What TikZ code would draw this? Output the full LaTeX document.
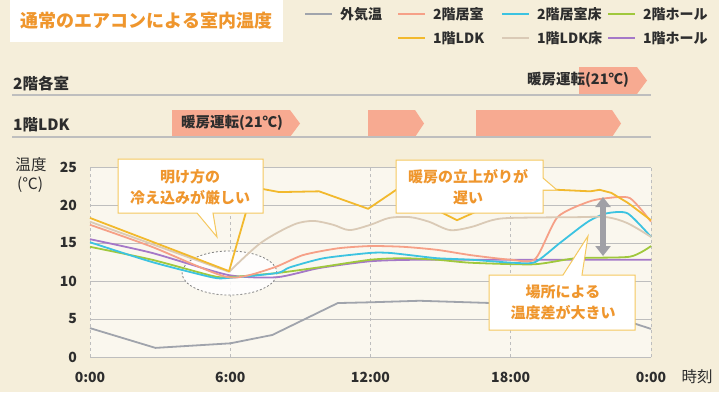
\documentclass[tikz,border=0pt]{standalone}
\usepackage{fontspec}
\setmainfont{Noto Sans CJK JP}
\usetikzlibrary{arrows.meta}

\definecolor{paper}{RGB}{245,238,218}
\definecolor{plotbg}{RGB}{250,247,238}
\definecolor{orangetext}{RGB}{239,150,45}
\definecolor{darktext}{RGB}{45,45,45}
\definecolor{gridgray}{RGB}{190,190,190}
\definecolor{outside}{RGB}{160,164,172}
\definecolor{roomtwo}{RGB}{246,160,135}
\definecolor{floortwo}{RGB}{60,195,225}
\definecolor{halltwo}{RGB}{160,200,60}
\definecolor{ldkone}{RGB}{242,185,45}
\definecolor{floorone}{RGB}{218,202,182}
\definecolor{hallone}{RGB}{165,120,200}
\definecolor{heatfill}{RGB}{247,170,145}
\definecolor{calloutline}{RGB}{245,200,95}
\definecolor{arrowgray}{RGB}{160,160,166}

\begin{document}
\begin{tikzpicture}[x=1pt,y=-1pt,
    legtext/.style={font=\fontsize{14}{16}\selectfont\bfseries,text=darktext,anchor=west,inner sep=0pt},
    legline/.style={line width=1.8pt},
    rowlabel/.style={font=\fontsize{15.5}{18}\selectfont\bfseries,text=darktext,anchor=west,inner sep=0pt},
    rowline/.style={draw=gridgray,line width=1.5pt},
    heat/.style={fill=heatfill},
    heattext/.style={font=\fontsize{14.5}{16}\selectfont\bfseries,text=darktext,inner sep=0pt},
    tick/.style={font=\fontsize{14}{16}\selectfont\bfseries,text=darktext,inner sep=0pt},
    grid/.style={draw=gridgray,line width=0.9pt},
    vgrid/.style={draw=gridgray,line width=0.9pt,dash pattern=on 3pt off 3pt},
    curve/.style={line width=1.8pt,line join=round},
    callout/.style={fill=white,draw=calloutline,line width=1pt,line join=miter},
    callouttext/.style={font=\fontsize{15}{21}\selectfont\bfseries,text=orangetext,align=center,inner sep=0pt},
    gap/.style={draw=arrowgray,line width=6pt,{Triangle[width=15pt,length=10pt]}-{Triangle[width=15pt,length=10pt]}}]

  \useasboundingbox (0,0) rectangle (719,392);
  \fill[paper] (0,0) rectangle (719,392);

  % title
  \node[fill=white,minimum width=273pt,minimum height=42pt,inner sep=0pt,
        font=\fontsize{18}{20}\selectfont\bfseries,text=orangetext] (title) at (146.5,21) {通常のエアコンによる室内温度};

  % legend
  \draw[legline,outside] (305,14) -- (332,14);
  \node[legtext] (legout) at (340,14) {外気温};
  \draw[legline,roomtwo] (398,14) -- (425,14);
  \node[legtext] (legroomtwo) at (433,14) {2階居室};
  \draw[legline,floortwo] (502,14) -- (529,14);
  \node[legtext] (legfloortwo) at (537,14) {2階居室床};
  \draw[legline,halltwo] (608,14) -- (635,14);
  \node[legtext] (leghalltwo) at (643,14) {2階ホール};
  \draw[legline,ldkone] (398,38) -- (425,38);
  \node[legtext] (legldkone) at (433,38) {1階LDK};
  \draw[legline,floorone] (502,38) -- (529,38);
  \node[legtext] (legfloorone) at (537,38) {1階LDK床};
  \draw[legline,hallone] (608,38) -- (635,38);
  \node[legtext] (leghallone) at (643,38) {1階ホール};

  % heating schedule
  \node[rowlabel] (rowtwo) at (13,84) {2階各室};
  \node[rowlabel] (rowone) at (13,125) {1階LDK};
  \fill[heat] (579,67) -- (637,67) -- (647,80.5) -- (637,94) -- (579,94) -- cycle;
  \fill[heat] (172,110) -- (290,110) -- (300,123.5) -- (290,137) -- (172,137) -- cycle;
  \fill[heat] (368,110) -- (415,110) -- (424,123.5) -- (415,137) -- (368,137) -- cycle;
  \fill[heat] (476,110) -- (612,110) -- (621,123.5) -- (612,137) -- (476,137) -- cycle;
  \draw[rowline] (12,95) -- (651,95);
  \draw[rowline] (12,137) -- (651,137);
  \node[heattext] (heattwo) at (578,80) {暖房運転(21℃)};
  \node[heattext] (heatone) at (232,123) {暖房運転(21℃)};

  % axis titles
  \node[font=\fontsize{15.5}{18}\selectfont,text=darktext,inner sep=0pt] (ylabel) at (31,165) {温度};
  \node[font=\fontsize{15.5}{18}\selectfont,text=darktext,inner sep=0pt] (yunit) at (30,185) {(℃)};
  \node[font=\fontsize{15.5}{18}\selectfont,text=darktext,inner sep=0pt] (xlabel) at (697,377) {時刻};

  \begin{scope}[shift={(90,357)},x=23.375pt,y=7.6pt]
    \fill[plotbg] (0,0) rectangle (24,25);
    \foreach \t in {0,5,...,25} {
      \draw[grid] (0,\t) -- (24,\t);
      \node[tick,anchor=east] (y\t) at (-0.55,\t) {\t};
    }
    \foreach \h/\s in {0/0:00,6/6:00,12/12:00,18/18:00,24/0:00} {
      \draw[vgrid] (\h,0) -- (\h,25);
      \node[tick] (x\h) at (\h,-2.65) {\s};
    }

    % cold morning
    \fill[white,opacity=0.85] (5.97,11.05) ellipse [x radius=2.03,y radius=2.9];
    \draw[gray,line width=0.8pt,dash pattern=on 2pt off 2pt] (5.97,11.05) ellipse [x radius=2.03,y radius=2.9];

    \draw[curve,outside] plot coordinates {(0,3.8) (2.8,1.2) (6,1.8) (7.8,2.9) (10.6,7.1) (12,7.2) (14.1,7.4) (17.2,7.1) (21.5,6.8) (23.2,4.5) (24,3.7)};
    \draw[curve,hallone] plot[smooth,tension=0.4] coordinates {(0,15.5) (2.65,13.7) (5.9,10.8) (8,10.5) (9.8,11.7) (12,12.6) (14.1,12.8) (19,12.8) (24,12.8)};
    \draw[curve,halltwo] plot[smooth,tension=0.4] coordinates {(0,14.5) (2.65,12.8) (5.2,10.7) (5.9,10.5) (8,11.05) (9.8,11.8) (12,12.8) (13.4,13.0) (14.85,12.8) (16.3,12.4) (19,12.2) (20.8,13.0) (23.1,13.2) (24,14.6)};
    \draw[curve,floortwo] plot[smooth,tension=0.4] coordinates {(0,15.1) (2.65,12.5) (5.2,10.5) (5.9,10.4) (8,11.05) (8.55,11.8) (10,13) (12,13.7) (12.8,13.7) (13.7,13.4) (14.85,13) (16.3,12.8) (18.1,12.4) (19.05,12.5) (20.1,15) (21.3,17.8) (22.1,18.9) (23,18.9) (24,15.8)};
    \draw[curve,roomtwo] plot[smooth,tension=0.4] coordinates {(0,17.4) (2.65,14.5) (5.9,10.5) (7.8,11.7) (9.1,13.4) (10.6,14.3) (12,14.6) (13.4,14.5) (14.85,14.1) (16.3,13.4) (18,12.8) (19.05,12.9) (20,18.4) (21.3,20.4) (22.1,20.9) (23.1,20.9) (24,17.8)};
    \draw[curve,floorone] (0,17.8) -- plot[smooth,tension=0.5] coordinates {(5.95,11.2) (7.3,15.0) (8.7,17.4) (9.55,17.9) (10.4,17.4) (11.1,16.7) (12,17.4) (12.8,18.3) (13.7,18.4) (14.5,17.8) (15.4,16.7) (16.3,17.1) (17.2,18.0) (18,18.3) (20.8,18.4) (22.1,18.4) (23,17.6) (24,15.8)};
    \draw[curve,ldkone] plot coordinates {(0,18.3) (5.95,11.3) (6.95,22.0) (7.4,22.1) (8.1,21.7) (9.8,21.8) (11.9,19.5) (13.1,22.0) (15.7,18.0) (18.6,22.0) (20,22.0) (21.4,21.8) (21.8,22.0) (22.3,21.6) (23,20.3) (24,18.0)};
  \end{scope}

  % gap between rooms
  \coordinate (gaptop) at (603,197);
  \coordinate (gapbottom) at (603,256);
  \draw[gap] (gaptop) -- (gapbottom);

  % callouts
  \coordinate (coldtip) at (217,237);
  \filldraw[callout] (118,159) -- (263,159) -- (263,213) -- (213,213) -- (coldtip) -- (197,213) -- (118,213) -- cycle;
  \node[callouttext] (cold) at (190,187.5) {明け方の\\冷え込みが厳しい};

  \coordinate (slowtip) at (557,190);
  \filldraw[callout] (396,160) -- (543,160) -- (543,178) -- (slowtip) -- (543,190) -- (543,213) -- (396,213) -- cycle;
  \node[callouttext] (slow) at (468,187) {暖房の立上がりが\\遅い};

  \coordinate (spreadtip) at (588,236);
  \filldraw[callout] (489,275) -- (563,275) -- (spreadtip) -- (582,275) -- (635,275) -- (635,330) -- (489,330) -- cycle;
  \node[callouttext] (spread) at (563,302.5) {場所による\\温度差が大きい};
\end{tikzpicture}
\end{document}
